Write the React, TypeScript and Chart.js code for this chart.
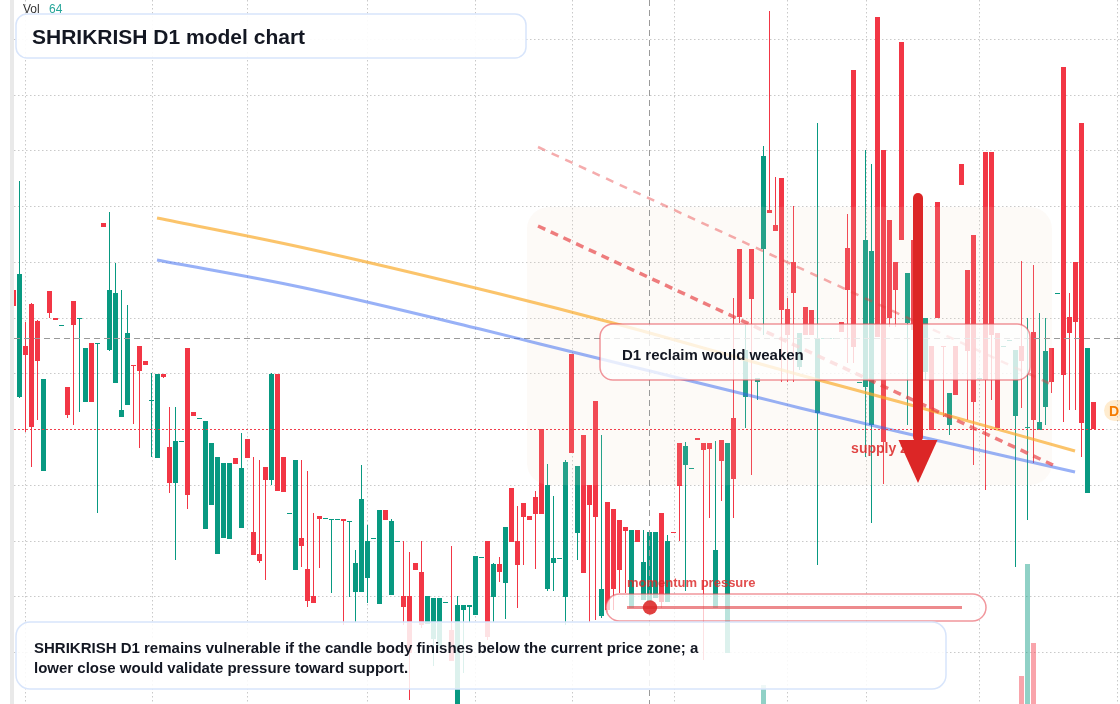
import React, { useEffect, useRef } from "react";
import { Chart, registerables } from "chart.js";

Chart.register(...registerables);

const W = 1120;
const H = 704;
const FONT = '"Liberation Sans", Arial, Helvetica, sans-serif';
const GREEN = "#089981";
const RED = "#f23645";

// ---- candles (price units) ----
const OPEN = [
  41.4, 30.7, 35.8, 40.0, 38.3, 23.3, 41.3, 38.6, 37.8, 31.7,
  40.3, 38.5, 30.2, 36.1, 36.0, 48.1, 35.4, 32.1, 28.7, 29.9,
  33.9, 35.8, 34.3, 30.3, 24.6, 33.0, 25.7, 22.1, 26.2, 35.6,
  29.2, 28.5, 17.5, 19.9, 15.0, 16.6, 16.5, 24.6, 17.6, 26.5,
  17.2, 15.0, 23.7, 22.4, 33.0, 24.7, 19.0, 13.4, 16.6, 13.5,
  10.8, 18.8, 18.5, 18.4, 18.4, 18.5, 18.2, 11.2, 11.2, 12.6,
  16.5, 10.0, 19.4, 10.9, 16.2, 10.8, 10.8, 14.1, 13.2, 8.0,
  6.5, 5.8, 10.1, 7.4, -1.6, 9.4, 9.7, 8.9, 14.6, 16.3,
  10.7, 14.0, 12.1, 21.6, 16.3, 20.1, 18.8, 20.7, 27.5, 11.5,
  14.1, 14.5, 10.7, 35.0, 17.1, 26.9, 21.9, 30.3, 8.8, 20.2,
  19.5, 18.4, 17.7, 9.6, 17.4, 10.4, 10.2, 10.6, 19.1, 10.2,
  17.2, 26.1, 23.9, 23.5, 26.6, 26.1, 26.1, 9.6, 26.4, 5.1,
  28.6, 45.5, 30.7, 45.5, 32.2, 45.5, 49.4, 47.9, 52.6, 39.5,
  44.2, 33.7, 39.7, 39.4, 29.1, 36.5, 36.5, 36.5, 38.2, 45.6,
  63.4, 32.1, 31.7, 27.9, 68.7, 55.4, 48.4, 44.2, 66.2, 38.1,
  46.4, 34.4, 33.2, 35.8, 50.2, 35.8, 27.9, 35.8, 54.0, 43.4,
  46.9, 32.5, 55.2, 55.2, 37.1, 35.7, 36.3, 28.8, 35.8, 27.6,
  37.2, 27.4, 29.7, 35.6, 41.0, 63.7, 38.7, 44.2, 58.1, 21.1,
  30.2,
];
const HIGH = [
  41.6, 52.3, 38.2, 40.1, 38.4, 32.5, 41.3, 38.6, 37.9, 31.7,
  40.3, 38.6, 35.6, 36.1, 36.1, 48.1, 49.2, 44.1, 41.4, 39.9,
  33.9, 35.8, 34.3, 33.1, 33.0, 33.0, 29.7, 29.7, 26.3, 35.6,
  29.2, 28.6, 28.3, 26.1, 24.7, 24.1, 24.1, 24.6, 27.1, 26.5,
  24.7, 24.4, 23.7, 33.1, 33.0, 24.7, 19.1, 24.4, 24.4, 23.3,
  19.1, 18.8, 18.6, 18.5, 18.5, 18.5, 18.3, 15.4, 23.9, 17.9,
  16.6, 19.4, 19.4, 18.5, 16.3, 16.3, 15.2, 14.1, 16.3, 10.8,
  10.6, 10.6, 10.2, 15.8, 10.8, 9.9, 9.9, 14.8, 14.7, 16.3,
  14.1, 14.7, 17.7, 21.6, 19.8, 20.1, 18.8, 21.3, 27.5, 24.0,
  20.8, 14.6, 24.4, 35.0, 23.8, 26.9, 21.9, 30.3, 26.9, 20.2,
  19.5, 18.4, 17.7, 17.4, 17.4, 17.4, 17.4, 17.2, 19.1, 16.9,
  17.2, 26.1, 26.2, 23.6, 26.6, 26.1, 26.1, 26.3, 26.4, 26.1,
  40.6, 45.5, 37.9, 45.5, 32.6, 55.8, 69.3, 52.7, 52.6, 40.6,
  49.8, 37.1, 39.7, 39.4, 58.1, 36.6, 36.6, 36.6, 38.2, 49.0,
  63.4, 32.2, 55.4, 54.0, 68.7, 55.4, 48.4, 44.2, 66.2, 43.1,
  46.4, 41.4, 38.6, 35.8, 50.2, 35.8, 31.1, 35.8, 54.0, 43.4,
  46.9, 32.6, 55.2, 55.2, 37.1, 35.8, 36.4, 35.4, 44.3, 38.6,
  43.9, 39.1, 38.6, 35.6, 41.1, 63.7, 41.1, 44.2, 58.1, 35.6,
  30.2,
];
const LOW = [
  39.6, 30.6, 27.2, 23.7, 28.4, 23.3, 38.6, 38.4, 37.8, 28.6,
  27.9, 29.2, 30.2, 30.2, 19.1, 47.7, 35.3, 32.1, 28.7, 29.9,
  28.0, 25.6, 33.9, 24.7, 24.6, 32.6, 21.1, 14.4, 26.2, 19.5,
  28.8, 28.5, 17.5, 19.9, 15.0, 16.6, 16.5, 24.0, 17.6, 24.6,
  14.9, 14.1, 12.4, 21.9, 21.3, 21.2, 19.0, 13.4, 13.7, 9.7,
  10.1, 13.6, 18.5, 11.1, 18.4, 7.9, 10.7, 8.2, 11.2, 10.1,
  16.5, 10.0, 18.4, 10.9, 16.2, 7.9, 0.4, 13.4, 7.6, 8.0,
  3.8, 5.4, 10.1, 4.3, -1.6, 3.1, 8.2, 8.9, 14.6, 6.4,
  8.2, 12.2, 8.5, 16.2, 9.6, 13.9, 18.4, 13.5, 19.0, 11.3,
  11.3, 14.5, 7.9, 25.1, 14.4, 13.1, 8.2, 8.4, 8.6, 9.2,
  9.4, 11.1, 11.1, 9.6, 16.2, 10.4, 10.2, 10.6, 9.6, 10.2,
  17.1, 16.3, 11.3, 23.5, 26.4, 4.4, 18.6, 9.6, 20.3, 5.1,
  18.6, 38.1, 27.6, 22.9, 30.4, 36.9, 49.1, 47.3, 32.2, 32.2,
  32.2, 33.4, 36.9, 36.9, 13.9, 36.5, 36.5, 36.5, 37.2, 34.1,
  34.1, 32.1, 24.7, 18.1, 36.7, 22.0, 37.7, 37.7, 46.4, 27.9,
  36.4, 33.9, 32.4, 27.4, 38.6, 28.7, 26.9, 30.9, 51.9, 28.4,
  23.9, 32.5, 21.4, 30.4, 27.6, 35.7, 36.3, 13.7, 29.6, 18.4,
  24.1, 27.4, 27.9, 31.1, 41.0, 28.2, 29.4, 29.4, 24.7, 21.1,
  27.5,
];
const CLOSE = [
  39.8, 43.0, 34.9, 27.7, 34.3, 32.5, 39.1, 38.4, 37.9, 28.9,
  37.9, 38.6, 35.6, 30.2, 36.1, 47.7, 41.4, 41.1, 29.4, 37.1,
  33.8, 33.3, 33.9, 30.4, 33.0, 32.7, 22.1, 26.3, 26.3, 20.9,
  28.8, 28.6, 28.3, 26.1, 24.7, 24.1, 24.1, 24.0, 23.6, 24.6,
  14.9, 14.3, 22.4, 33.0, 21.3, 21.2, 19.1, 24.4, 15.8, 10.3,
  10.1, 18.5, 18.6, 18.5, 18.5, 18.3, 18.3, 14.1, 20.5, 16.3,
  16.6, 19.4, 18.4, 18.3, 16.3, 9.7, 5.1, 13.4, 7.9, 10.8,
  10.6, 10.6, 10.2, 4.3, 9.9, 9.9, 9.9, 14.8, 14.7, 6.7,
  14.0, 13.2, 17.7, 16.2, 13.9, 18.7, 18.4, 19.0, 19.0, 21.9,
  14.6, 14.6, 24.2, 25.1, 23.8, 13.1, 19.9, 18.7, 11.5, 9.4,
  11.5, 13.4, 17.3, 17.4, 16.2, 14.2, 17.2, 17.2, 10.2, 16.3,
  17.1, 21.8, 25.8, 23.6, 26.4, 25.4, 25.5, 15.4, 24.3, 26.1,
  22.5, 38.7, 35.4, 40.5, 32.6, 54.8, 49.1, 47.3, 39.4, 36.9,
  41.1, 37.1, 36.9, 36.9, 36.6, 36.6, 36.6, 36.6, 37.2, 41.4,
  35.7, 32.2, 46.4, 45.3, 36.7, 26.2, 38.6, 41.4, 46.4, 43.1,
  37.4, 40.4, 38.6, 27.4, 38.6, 35.7, 31.1, 30.9, 51.9, 35.3,
  30.2, 32.6, 32.4, 36.9, 27.6, 35.8, 36.4, 35.4, 34.3, 27.7,
  28.4, 28.2, 35.3, 32.2, 41.1, 32.9, 37.1, 38.2, 28.1, 35.6,
  27.5,
];
const VOLUME = [
  0, 0, 0, 0, 0, 0, 0, 0, 0, 0,
  0, 0, 0, 0, 0, 0, 0, 0, 0, 0,
  0, 0, 0, 0, 0, 0, 0, 0, 0, 0,
  0, 0, 0, 0, 0, 0, 0, 0, 0, 0,
  0, 0, 0, 0, 0, 0, 0, 0, 0, 0,
  0, 0, 0, 0, 0, 0, 0, 0, 0, 0,
  0, 0, 0, 0, 0, 0, 0, 0, 0, 0,
  0, 0, 0, 0, 0, 0, 0, 0, 0, 0,
  0, 0, 0, 0, 0, 0, 0, 0, 0, 0,
  0, 0, 0, 0, 0, 0, 0, 0, 0, 0,
  0, 0, 0, 0, 0, 0, 0, 0, 0, 0,
  0, 0, 0, 0, 0, 0, 0, 0, 0, 0,
  0, 0, 0, 0, 0, 1.9, 0, 0, 0, 0,
  0, 0, 0, 0, 0, 0, 0, 0, 0, 0,
  0, 0, 0, 0, 0, 0, 0, 0, 0, 0,
  0, 0, 0, 0, 0, 0, 0, 0, 0, 0,
  0, 0, 0, 0, 0, 0, 0, 0, 2.8, 14.0,
  6.1, 0, 0, 0, 0, 0, 0, 0, 0, 0,
  0,
];

// ---- overlay lines (bar index, price) ----
const ORANGE_X = [23.92, 47.75, 81.08, 99.92, 131.08, 147.75, 176.92];
const ORANGE_Y = [48.6, 45.7, 41.0, 38.1, 32.9, 30.2, 25.3];
const BLUE_X = [23.92, 47.75, 77.75, 87.75, 124.42, 131.08, 147.75, 176.92];
const BLUE_Y = [44.4, 41.7, 37.5, 36.0, 30.6, 29.6, 27.2, 23.2];
const UPPER_TREND_X = [87.42, 173.58];
const UPPER_TREND_Y = [55.7, 31.8];
const LOWER_TREND_X = [87.42, 173.25];
const LOWER_TREND_Y = [47.8, 23.9];

// ---- grid and markers ----
const GRID_PRICES = [66.5, 60.9, 55.4, 49.8, 44.2, 38.6, 33.1, 27.5, 21.9, 16.3, 10.8, 5.2];
const GRID_BARS = [1.92, 23.03, 38.92, 58.92, 76.92, 93.08, 110.08, 128.92, 142.08, 160.92, 183.92];
const LAST_PRICE = 27.5;
const CROSS_PRICE = 36.6;
const CROSS_BAR = 105.92;
const ZONE_BARS = [85.58, 173.08];
const ZONE_PRICES = [49.7, 21.9];
const RECLAIM_BARS = [97.75, 169.42];
const RECLAIM_PRICES = [38.0, 32.4];
const ARROW_BAR = 150.75;
const ARROW_PRICES = [51.1, 26.4, 22.1]; // top, head base, tip
const SUPPLY_LABEL = [139.6, 25.6];

const X_MIN = -2.25;
const X_MAX = X_MIN + W / 6;

function rr(ctx: CanvasRenderingContext2D, x: number, y: number, w: number, h: number, r: number) {
  ctx.beginPath();
  ctx.moveTo(x + r, y);
  ctx.arcTo(x + w, y, x + w, y + h, r);
  ctx.arcTo(x + w, y + h, x, y + h, r);
  ctx.arcTo(x, y + h, x, y, r);
  ctx.arcTo(x, y, x + w, y, r);
  ctx.closePath();
}

const overlayPlugin = {
  id: "overlay",
  beforeDatasetsDraw(chart: any) {
    const ctx: CanvasRenderingContext2D = chart.ctx;
    const xs = chart.scales.x;
    const ys = chart.scales.y;
    ctx.save();
    ctx.strokeStyle = "#c9c9c9";
    ctx.lineWidth = 1;
    ctx.setLineDash([1.5, 2.5]);
    ctx.beginPath();
    GRID_PRICES.forEach((p) => {
      const yy = Math.round(ys.getPixelForValue(p)) + 0.5;
      ctx.moveTo(14, yy);
      ctx.lineTo(W, yy);
    });
    GRID_BARS.forEach((b) => {
      const xx = Math.round(xs.getPixelForValue(b)) + 0.5;
      ctx.moveTo(xx, 0);
      ctx.lineTo(xx, H);
    });
    ctx.stroke();
    ctx.restore();
  },
  afterDatasetDraw(chart: any, args: any) {
    const ds = chart.data.datasets[args.index];
    if (!ds || ds.label !== "bodies") return;
    const ctx: CanvasRenderingContext2D = chart.ctx;
    const xs = chart.scales.x;
    const ys = chart.scales.y;
    ctx.save();
    // zone
    const zx0 = xs.getPixelForValue(ZONE_BARS[0]);
    const zx1 = xs.getPixelForValue(ZONE_BARS[1]);
    const zy0 = ys.getPixelForValue(ZONE_PRICES[0]);
    const zy1 = ys.getPixelForValue(ZONE_PRICES[1]);
    rr(ctx, zx0, zy0, zx1 - zx0, zy1 - zy0, 22);
    ctx.fillStyle = "rgba(240,215,190,0.13)";
    ctx.fill();
    // crosshair
    ctx.strokeStyle = "#9a9a9a";
    ctx.lineWidth = 1;
    ctx.setLineDash([6, 4]);
    ctx.beginPath();
    const cy = Math.round(ys.getPixelForValue(CROSS_PRICE)) + 0.5;
    ctx.moveTo(14, cy);
    ctx.lineTo(W, cy);
    const cx = Math.round(xs.getPixelForValue(CROSS_BAR)) + 0.5;
    ctx.moveTo(cx, 0);
    ctx.lineTo(cx, H);
    ctx.stroke();
    ctx.restore();
  },
  afterDatasetsDraw(chart: any) {
    const ctx: CanvasRenderingContext2D = chart.ctx;
    const xs = chart.scales.x;
    const ys = chart.scales.y;
    ctx.save();
    // last price dotted line
    ctx.strokeStyle = "rgba(242,54,69,0.95)";
    ctx.lineWidth = 1;
    ctx.setLineDash([2, 2]);
    ctx.beginPath();
    const py = Math.round(ys.getPixelForValue(LAST_PRICE)) + 0.5;
    ctx.moveTo(14, py);
    ctx.lineTo(1104, py);
    ctx.stroke();
    ctx.setLineDash([]);

    // reclaim box
    const bx0 = xs.getPixelForValue(RECLAIM_BARS[0]);
    const bx1 = xs.getPixelForValue(RECLAIM_BARS[1]);
    const by0 = ys.getPixelForValue(RECLAIM_PRICES[0]);
    const by1 = ys.getPixelForValue(RECLAIM_PRICES[1]);
    rr(ctx, bx0, by0, bx1 - bx0, by1 - by0, 13);
    ctx.fillStyle = "rgba(255,255,255,0.78)";
    ctx.fill();
    ctx.strokeStyle = "rgba(232,80,90,0.6)";
    ctx.lineWidth = 1.5;
    ctx.stroke();
    ctx.fillStyle = "#131722";
    ctx.font = `bold 15px ${FONT}`;
    ctx.textBaseline = "alphabetic";
    ctx.fillText("D1 reclaim would weaken", bx0 + 22, by0 + 35.5);

    // supply zone label
    ctx.fillStyle = "rgba(220,38,38,0.85)";
    ctx.font = `bold 14px ${FONT}`;
    ctx.fillText("supply zone", xs.getPixelForValue(SUPPLY_LABEL[0]), ys.getPixelForValue(SUPPLY_LABEL[1]) + 5);

    // arrow
    const ax = xs.getPixelForValue(ARROW_BAR);
    const at = ys.getPixelForValue(ARROW_PRICES[0]);
    const ab = ys.getPixelForValue(ARROW_PRICES[1]);
    const tip = ys.getPixelForValue(ARROW_PRICES[2]);
    ctx.fillStyle = "#dc2626";
    rr(ctx, ax - 5, at, 10, ab - at + 2, 5);
    ctx.fill();
    ctx.beginPath();
    ctx.moveTo(ax - 19.5, ab);
    ctx.lineTo(ax + 19.5, ab);
    ctx.lineTo(ax, tip);
    ctx.closePath();
    ctx.fill();

    // momentum slider
    ctx.fillStyle = "rgba(220,38,38,0.82)";
    ctx.font = `bold 13px ${FONT}`;
    ctx.fillText("momentum pressure", 627, 587);
    rr(ctx, 606, 594, 380, 27, 13.5);
    ctx.fillStyle = "rgba(255,255,255,0.72)";
    ctx.fill();
    ctx.strokeStyle = "rgba(232,80,90,0.6)";
    ctx.lineWidth = 1.5;
    ctx.stroke();
    ctx.strokeStyle = "rgba(225,60,65,0.6)";
    ctx.lineWidth = 3;
    ctx.beginPath();
    ctx.moveTo(627, 607.5);
    ctx.lineTo(962, 607.5);
    ctx.stroke();
    ctx.fillStyle = "rgba(220,38,38,0.88)";
    ctx.beginPath();
    ctx.arc(650, 607.5, 7.2, 0, Math.PI * 2);
    ctx.fill();

    // bottom note box
    rr(ctx, 16, 622, 930, 67, 14);
    ctx.fillStyle = "rgba(255,255,255,0.86)";
    ctx.fill();
    ctx.strokeStyle = "#d8e5fb";
    ctx.lineWidth = 1.5;
    ctx.stroke();
    ctx.fillStyle = "#131722";
    ctx.font = `bold 15px ${FONT}`;
    ctx.fillText("SHRIKRISH D1 remains vulnerable if the candle body finishes below the current price zone; a", 34, 653);
    ctx.fillText("lower close would validate pressure toward support.", 34, 673);

    // title box
    rr(ctx, 16, 14, 510, 44, 11);
    ctx.fillStyle = "rgba(255,255,255,0.92)";
    ctx.fill();
    ctx.strokeStyle = "#d8e5fb";
    ctx.lineWidth = 1.5;
    ctx.stroke();
    ctx.fillStyle = "#131722";
    ctx.font = `bold 21px ${FONT}`;
    ctx.fillText("SHRIKRISH D1 model chart", 32, 44);

    // volume legend
    ctx.font = `12px ${FONT}`;
    ctx.fillStyle = "#333333";
    ctx.fillText("Vol", 23, 13);
    ctx.fillStyle = "#26a69a";
    ctx.fillText("64", 49, 13);

    // right price tag
    rr(ctx, 1104, 400, 60, 21, 10.5);
    ctx.fillStyle = "rgba(255,167,38,0.22)";
    ctx.fill();
    ctx.fillStyle = "#f57c00";
    ctx.font = `bold 14px ${FONT}`;
    ctx.fillText("D1", 1109, 416);

    // left strip
    ctx.fillStyle = "#e9e9e9";
    ctx.fillRect(10, 0, 4, H);
    ctx.restore();
  },
};

export default function App() {
  const ref = useRef<HTMLCanvasElement | null>(null);
  useEffect(() => {
    if (!ref.current) return;
    const idx = OPEN.map((_, i) => i);
    const colors = idx.map((i) => (CLOSE[i] >= OPEN[i] ? GREEN : RED));
    const volColors = idx.map((i) => (CLOSE[i] >= OPEN[i] ? "rgba(8,153,129,0.45)" : "rgba(242,54,69,0.45)"));
    const chart = new Chart(ref.current, {
      type: "bar",
      data: {
        datasets: [
          {
            label: "volume",
            yAxisID: "yv",
            data: idx.map((i) => ({ x: i, y: VOLUME[i] })),
            backgroundColor: volColors,
            barThickness: 5,
            grouped: false,
            borderWidth: 0,
            inflateAmount: 0,
            order: 7,
          } as any,
          {
            label: "wicks",
            data: idx.map((i) => ({ x: i, y: [LOW[i], HIGH[i]] })),
            backgroundColor: colors,
            barThickness: 1,
            grouped: false,
            borderWidth: 0,
            inflateAmount: 0,
            minBarLength: 1,
            order: 6,
          } as any,
          {
            label: "bodies",
            data: idx.map((i) => ({ x: i, y: [OPEN[i], CLOSE[i]] })),
            backgroundColor: colors,
            barThickness: 5,
            grouped: false,
            borderWidth: 0,
            inflateAmount: 0,
            minBarLength: 1,
            order: 5,
          } as any,
          {
            type: "line",
            label: "orange",
            data: ORANGE_X.map((x, i) => ({ x, y: ORANGE_Y[i] })),
            borderColor: "rgba(249,168,37,0.68)",
            borderWidth: 3,
            pointRadius: 0,
            cubicInterpolationMode: "monotone",
            fill: false,
            order: 4,
          } as any,
          {
            type: "line",
            label: "blue",
            data: BLUE_X.map((x, i) => ({ x, y: BLUE_Y[i] })),
            borderColor: "rgba(50,100,240,0.5)",
            borderWidth: 3,
            pointRadius: 0,
            cubicInterpolationMode: "monotone",
            fill: false,
            order: 3,
          } as any,
          {
            type: "line",
            label: "upperTrend",
            data: UPPER_TREND_X.map((x, i) => ({ x, y: UPPER_TREND_Y[i] })),
            borderColor: "rgba(230,57,60,0.42)",
            borderWidth: 2.5,
            borderDash: [8, 7],
            pointRadius: 0,
            fill: false,
            order: 2,
          } as any,
          {
            type: "line",
            label: "lowerTrend",
            data: LOWER_TREND_X.map((x, i) => ({ x, y: LOWER_TREND_Y[i] })),
            borderColor: "rgba(230,57,60,0.65)",
            borderWidth: 3.5,
            borderDash: [8, 6],
            pointRadius: 0,
            fill: false,
            order: 1,
          } as any,
        ],
      },
      options: {
        animation: false,
        responsive: false,
        devicePixelRatio: 1,
        events: [],
        layout: { padding: 0 },
        plugins: { legend: { display: false }, tooltip: { enabled: false } },
        scales: {
          x: { type: "linear", min: X_MIN, max: X_MAX, display: false, offset: false },
          y: { type: "linear", min: 0, max: 70.4, display: false },
          yv: { type: "linear", min: 0, max: 70.4, display: false },
        },
      } as any,
      plugins: [overlayPlugin as any],
    });
    return () => chart.destroy();
  }, []);
  return (
    <div style={{ position: "fixed", left: 0, top: 0, width: W, height: H, background: "#ffffff" }}>
      <canvas ref={ref} width={W} height={H} style={{ display: "block", width: W, height: H }} />
    </div>
  );
}
